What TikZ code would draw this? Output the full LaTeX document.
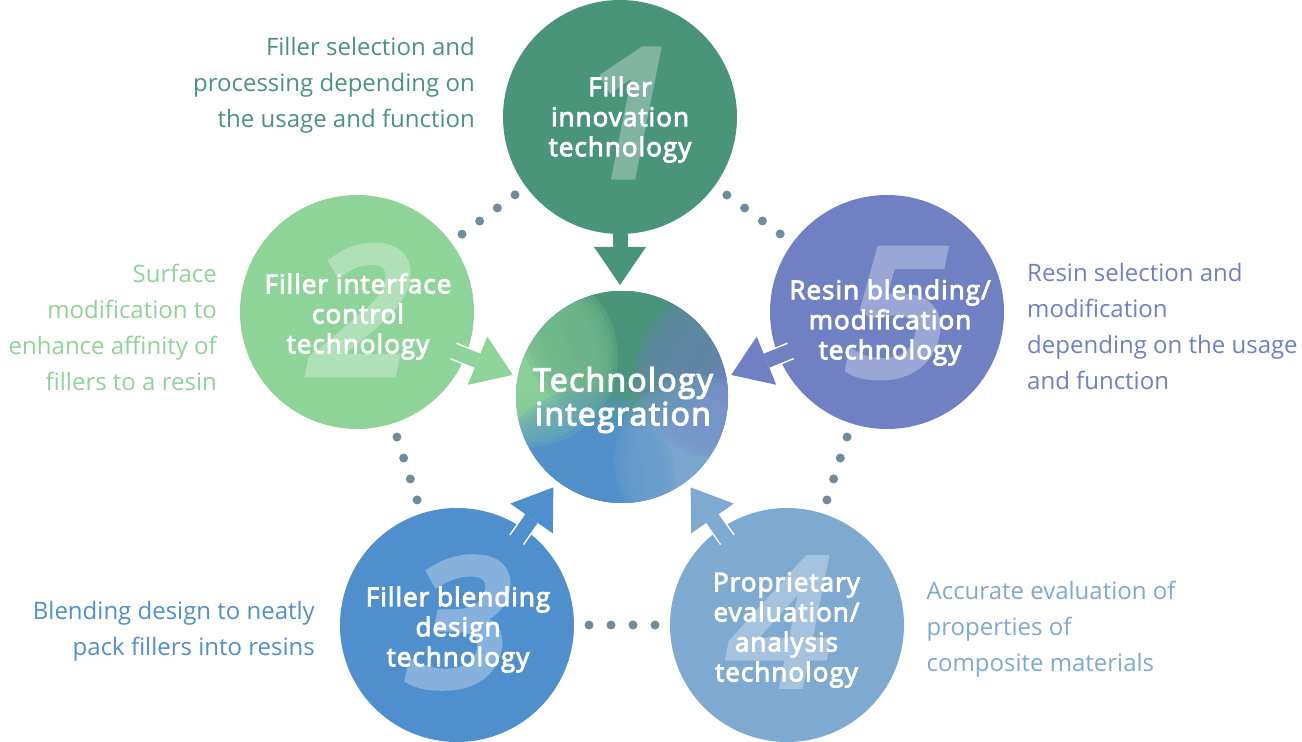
\documentclass[tikz,border=0pt]{standalone}
\usepackage{fontspec}
\setmainfont{Open Sans}
\newfontfamily\heavyfont{Open Sans}[FakeBold=3.5, LetterSpace=4]
\newfontfamily\digitfont{Open Sans}[FakeBold=6, FakeSlant=0.2]
\usetikzlibrary{calc,arrows.meta}

\definecolor{gr1}{RGB}{74,148,121}
\definecolor{gr2}{RGB}{142,211,152}
\definecolor{bl3}{RGB}{80,143,205}
\definecolor{bl4}{RGB}{126,169,208}
\definecolor{pu5}{RGB}{111,128,195}
\definecolor{dotc}{RGB}{110,140,156}
\definecolor{coremix}{RGB}{100,160,178}

\tikzset{
  disc/.style={circle, minimum size=234pt, inner sep=0, outer sep=0},
  numeral/.style={font=\digitfont\fontsize{172}{172}\selectfont, text=#1!70!white, inner sep=0},
  caption/.style={font=\heavyfont\fontsize{26}{30}\selectfont, text=white, align=center, inner sep=0},
  note/.style={font=\fontsize{24}{36}\selectfont, inner sep=0},
  halo/.style={white, line width=18pt, shorten <=-13pt, shorten >=38pt},
  pointer/.style={line width=15pt, shorten <=-14pt, -{Triangle[length=38pt,width=52pt,line width=0pt]}},
  blob/.style={fill opacity=.2}
}

\begin{document}
\begin{tikzpicture}[x=1pt,y=1pt]
  \useasboundingbox (0,0) rectangle (1302,742);

  \node[disc, fill=gr1] (c1) at (620,625) {};
  \node[disc, fill=gr2] (c2) at (357,430) {};
  \node[disc, fill=bl3] (c3) at (457,117) {};
  \node[disc, fill=bl4] (c4) at (787,117) {};
  \node[disc, fill=pu5] (c5) at (887,430) {};

  % dotted links between neighbours
  \foreach \a/\b in {c1/c2, c2/c3, c3/c4, c4/c5, c5/c1}
    \foreach \k in {-1.5,-0.5,0.5,1.5}
      \fill[dotc] ($(\a)!0.5!(\b)!\k*22pt!(\b)$) circle (4.5);

  \foreach \n/\a in {1/-90, 2/-22, 3/55, 4/125, 5/202}
    \coordinate (p\n) at ($(c\n)+(\a:168)$);

  \foreach \n/\a in {2/-22, 3/55, 4/125, 5/202}
    \draw[halo] (c\n.\a) -- (p\n);

  \draw[pointer, gr1] (c1.-90) -- (p1);
  \draw[pointer, gr2] (c2.-22) -- (p2);
  \draw[pointer, bl3] (c3.55) -- (p3);
  \draw[pointer, bl4] (c4.125) -- (p4);
  \draw[pointer, pu5] (c5.202) -- (p5);

  \node[numeral=gr1] (d1) at (620,629) {1};
  \node[numeral=gr2] (d2) at (351.5,432) {2};
  \node[numeral=bl3] (d3) at (450.5,119.5) {3};
  \node[numeral=bl4] (d4) at (771,120) {4};
  \node[numeral=pu5] (d5) at (887.5,429) {5};

  \node[caption] (t1) at (620,622.5) {Filler\\innovation\\technology};
  \node[caption] (t2) at (358,425.5) {Filler interface\\control\\technology};
  \node[caption] (t3) at (458,112.5) {Filler blending\\design\\technology};
  \node[caption] (t4) at (786.5,112) {Proprietary\\evaluation/\\analysis\\technology};
  \node[caption] (t5) at (890,419.5) {Resin blending/\\modification\\technology};

  \node[disc, minimum size=212pt, fill=coremix] (core) at (622,345) {};
  \begin{scope}
    \clip (core.center) circle (106);
    \foreach \r in {1,...,20} {
      \fill[gr1, blob] (628,425) circle (\r*5.5);
      \fill[gr2, blob] (528,385) circle (\r*4.5);
      \fill[pu5, blob] (718,368) circle (\r*4.2);
      \fill[bl3, blob] (585,262) circle (\r*4.5);
      \fill[bl4, blob] (698,282) circle (\r*4.2);
    }
  \end{scope}
  \node[font=\heavyfont\fontsize{32}{34}\selectfont, text=white, align=center, inner sep=0] (tc) at (623,342) {Technology\\integration};

  \node[note, text=gr1, align=right, anchor=east] (s1) at (475,657) {Filler selection and\\processing depending on\\the usage and function};
  \node[note, text=gr2, align=right, anchor=east] (s2) at (217,415) {Surface\\modification to\\enhance affinity of\\fillers to a resin};
  \node[note, text=bl3, align=right, anchor=east] (s3) at (315,111) {Blending design to neatly\\pack fillers into resins};
  \node[note, text=bl4, align=left, anchor=west] (s4) at (926.5,113) {Accurate evaluation of\\properties of\\composite materials};
  \node[note, text=pu5, align=left, anchor=west] (s5) at (1027,415) {Resin selection and\\modification\\depending on the usage\\and function};
\end{tikzpicture}
\end{document}
